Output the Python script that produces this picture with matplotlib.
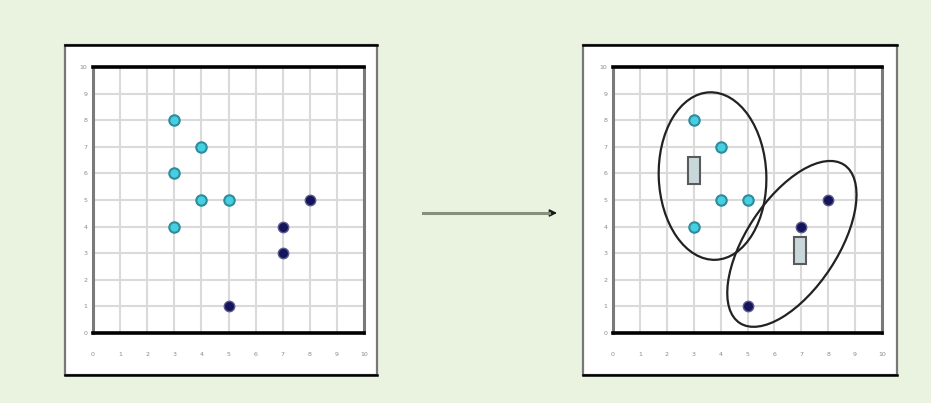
"""
K-means illustration: raw points (left) and clustered points with centroids (right).
"""
import matplotlib
matplotlib.use("Agg")
import matplotlib.pyplot as plt
from matplotlib.patches import Rectangle, Ellipse, FancyArrowPatch

# ── data ───────────────────────────────────────────────────────────────────────
CYAN_X = [3, 4, 3, 4, 5, 3]
CYAN_Y = [8, 7, 6, 5, 5, 4]
NAVY_X = [8, 7, 7, 5]
NAVY_Y = [5, 4, 3, 1]

# right panel: the cyan point at (3,6) and navy at (7,3) sit under centroids
CENT_X = [3.0, 6.95]
CENT_Y = [6.1, 3.1]

# cluster outlines: centre x, centre y, width, height, angle
CLUSTERS = [
    (3.7, 5.9, 4.0, 6.3, 2),
    (6.65, 3.35, 7.1, 3.4, 57),
]
TICKS = list(range(0, 11))

BG = "#EAF2E0"
CYAN_FACE, CYAN_EDGE = "#45CFE0", "#2E8C9C"
NAVY = "#14145A"


def _frame(fig, x0, y0, x1, y1):
    W, H = 931, 403
    r = Rectangle((x0 / W, 1 - y1 / H), (x1 - x0) / W, (y1 - y0) / H,
                  transform=fig.transFigure, facecolor="white",
                  edgecolor="#777777", lw=1.6, zorder=-3)
    fig.patches.append(r)
    for yy in (y0, y1):
        fig.lines.append(plt.Line2D([x0 / W, x1 / W], [1 - yy / H, 1 - yy / H],
                                    transform=fig.transFigure, color="black",
                                    lw=1.8, zorder=-2))


def _panel(fig, rect, right=False):
    ax = fig.add_axes(rect)
    ax.set_facecolor("white")
    ax.set_xlim(0, 10); ax.set_ylim(0, 10)
    ax.set_xticks(TICKS); ax.set_yticks(TICKS)
    ax.set_xticklabels([str(t) for t in TICKS])
    ax.set_yticklabels([str(t) for t in TICKS])
    ax.tick_params(length=0, labelsize=4.5, colors="#8a8a8a")
    ax.tick_params(axis="x", pad=14)
    ax.tick_params(axis="y", pad=4)
    ax.grid(True, color="#dadada", lw=1.5)
    ax.set_axisbelow(True)
    for s in ("top", "bottom"):
        ax.spines[s].set_color("black"); ax.spines[s].set_linewidth(2.6)
    for s in ("left", "right"):
        ax.spines[s].set_color("#7a7a7a"); ax.spines[s].set_linewidth(2.2)

    if not right:
        ax.plot(CYAN_X, CYAN_Y, "o", ms=7.5, mfc=CYAN_FACE, mec=CYAN_EDGE, mew=1.5)
        ax.plot(NAVY_X, NAVY_Y, "o", ms=7.5, mfc=NAVY, mec="#5a5a90", mew=1.0)
    else:
        for cx, cy, w, h, ang in CLUSTERS:
            ax.add_patch(Ellipse((cx, cy), w, h, angle=ang, fill=False,
                                 edgecolor="#222222", lw=1.6, zorder=3))
        cx_ = [x for x, y in zip(CYAN_X, CYAN_Y) if (x, y) != (3, 6)]
        cy_ = [y for x, y in zip(CYAN_X, CYAN_Y) if (x, y) != (3, 6)]
        nx_ = [x for x, y in zip(NAVY_X, NAVY_Y) if (x, y) != (7, 3)]
        ny_ = [y for x, y in zip(NAVY_X, NAVY_Y) if (x, y) != (7, 3)]
        ax.plot(cx_, cy_, "o", ms=7.5, mfc=CYAN_FACE, mec=CYAN_EDGE, mew=1.5, zorder=4)
        ax.plot(nx_, ny_, "o", ms=7.5, mfc=NAVY, mec="#5a5a90", mew=1.0, zorder=4)
        for x, y in zip(CENT_X, CENT_Y):
            ax.add_patch(Rectangle((x - 0.22, y - 0.5), 0.44, 1.0,
                                   facecolor="#C8D8DA", edgecolor="#5a5a5a",
                                   lw=1.5, zorder=5))
    return ax


fig = plt.figure(figsize=(9.31, 4.03), dpi=100)
fig.patch.set_facecolor(BG)

_frame(fig, 65, 45, 377, 375)
_frame(fig, 583, 45, 897, 375)

_panel(fig, [93 / 931, 1 - 333 / 403, 271 / 931, 266 / 403])
_panel(fig, [613 / 931, 1 - 333 / 403, 269 / 931, 266 / 403], right=True)

# arrow: grey-green shaft with a small dark head
W, H = 931, 403
fig.lines.append(plt.Line2D([423 / W, 549 / W], [1 - 213 / H, 1 - 213 / H],
                            transform=fig.transFigure, color="#86917c", lw=2.2))
head = FancyArrowPatch((540 / W, 1 - 213 / H), (557 / W, 1 - 213 / H),
                       transform=fig.transFigure, arrowstyle="-|>",
                       mutation_scale=11, color="#1a1a1a", lw=1,
                       shrinkA=0, shrinkB=0)
fig.patches.append(head)

fig.savefig("out.png", dpi=100, facecolor=BG)
